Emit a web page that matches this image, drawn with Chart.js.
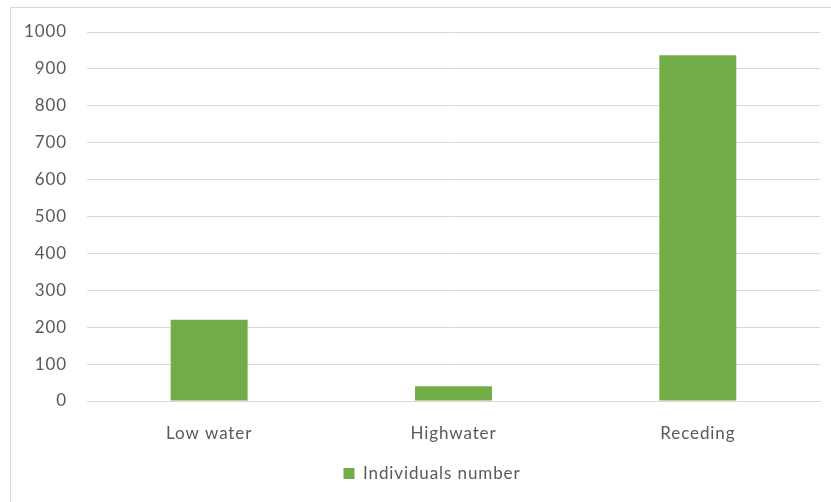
<!DOCTYPE html>
<html>
<head>
<meta charset="utf-8">
<script src="https://cdn.jsdelivr.net/npm/chart.js@4/dist/chart.umd.min.js"></script>
<style>
  html, body { margin: 0; padding: 0; background: #ffffff; }
  #wrap { width: 831px; height: 502px; position: relative; }
</style>
</head>
<body>
<div id="wrap"><canvas id="c" width="831" height="502"></canvas></div>
<script>
// Sampling periods and counts
const categories = ['Low water', 'Highwater', 'Receding'];
const individualsNumber = [220, 40, 937];
const seriesLabel = 'Individuals number';
const yTicks = { min: 0, max: 1000, step: 100 };

const textColor = '#595959';
const gridColor = '#d9d9d9';
const barColor = '#70ad47';
const fontFamily = 'Lato, "Open Sans", sans-serif';
const fontSize = 17;
const legendCenterX = 432;

// Slightly open lettering for all text, set before measuring and drawing
const spacingPlugin = {
  id: 'spacing',
  beforeUpdate(chart) { chart.ctx.letterSpacing = '0.9px'; },
  beforeDraw(chart) { chart.ctx.letterSpacing = '0.9px'; }
};

// Place the legend's center at a fixed horizontal position
const legendShiftPlugin = {
  id: 'legendShift',
  afterLayout(chart) {
    const lg = chart.legend;
    if (!lg) return;
    const shift = legendCenterX - (lg.left + lg.right) / 2;
    lg.left += shift;
    lg.right += shift;
  }
};

// Light frame around the chart (top and left edges fall inside the canvas)
const framePlugin = {
  id: 'frame',
  beforeDraw(chart) {
    const ctx = chart.ctx;
    ctx.save();
    ctx.fillStyle = '#ffffff';
    ctx.fillRect(0, 0, chart.width, chart.height);
    ctx.strokeStyle = gridColor;
    ctx.lineWidth = 1;
    ctx.beginPath();
    ctx.moveTo(10.5, chart.height);
    ctx.lineTo(10.5, 7.5);
    ctx.lineTo(chart.width, 7.5);
    ctx.stroke();
    ctx.restore();
  }
};

new Chart(document.getElementById('c'), {
  type: 'bar',
  data: {
    labels: categories,
    datasets: [{
      label: seriesLabel,
      data: individualsNumber,
      backgroundColor: barColor,
      borderWidth: 0,
      barPercentage: 0.315,
      categoryPercentage: 1
    }]
  },
  options: {
    responsive: false,
    animation: false,
    devicePixelRatio: 1,
    layout: { padding: { left: 10, top: 32, right: 11, bottom: 10 } },
    plugins: {
      legend: {
        position: 'bottom',
        labels: {
          color: textColor,
          font: { family: fontFamily, size: fontSize },
          boxWidth: 11,
          boxHeight: 11,
          padding: 16
        }
      },
      tooltip: { enabled: false }
    },
    scales: {
      x: {
        grid: { display: false, drawTicks: false },
        border: { display: true, color: gridColor, width: 1 },
        ticks: {
          color: textColor,
          font: { family: fontFamily, size: fontSize },
          padding: 22
        },
        afterFit(scale) { scale.height = 48; }
      },
      y: {
        min: yTicks.min,
        max: yTicks.max,
        ticks: {
          stepSize: yTicks.step,
          color: textColor,
          font: { family: fontFamily, size: fontSize },
          padding: 20,
          callback: (v) => String(v)
        },
        grid: { color: gridColor, lineWidth: 1, drawTicks: false },
        border: { display: false },
        afterFit(scale) { scale.width = 77; }
      }
    }
  },
  plugins: [spacingPlugin, legendShiftPlugin, framePlugin]
});
</script>
</body>
</html>
